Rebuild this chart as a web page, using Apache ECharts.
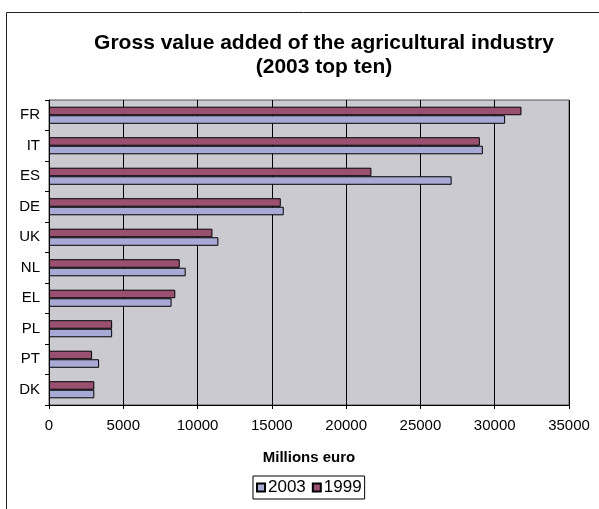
<!DOCTYPE html>
<html>
<head>
<meta charset="utf-8">
<script src="https://cdn.jsdelivr.net/npm/echarts@6/dist/echarts.min.js"></script>
<style>
  html, body { margin: 0; padding: 0; background: #fff; }
  #chart { width: 599px; height: 509px; }
</style>
</head>
<body>
<div id="chart"></div>
<script>
// values in millions euro
var countries = ["FR", "IT", "ES", "DE", "UK", "NL", "EL", "PL", "PT", "DK"];
var values2003 = [30700, 29200, 27100, 15800, 11400, 9200, 8250, 4250, 3370, 3050];
var values1999 = [31800, 29000, 21700, 15600, 11000, 8800, 8500, 4250, 2900, 3050];
var xTicks = [0, 5000, 10000, 15000, 20000, 25000, 30000, 35000];

var myChart = echarts.init(document.getElementById("chart"));
var font = "Liberation Sans, Arial, sans-serif";

var option = {
  animation: false,
  textStyle: { fontFamily: font },
  title: {
    text: "Gross value added of the agricultural industry\n(2003 top ten)",
    left: 319,
    textAlign: "center",
    top: 26,
    textStyle: { fontSize: 21, fontWeight: "bold", color: "#000", lineHeight: 24, fontFamily: font },
  },
  graphic: [
    {
      type: "rect",
      shape: { x: 6.5, y: 12.5, width: 620, height: 520 },
      style: { fill: "none", stroke: "#222", lineWidth: 1 },
      silent: true,
    },
  ],
  legend: {
    bottom: 10,
    left: 253,
    data: ["2003", "1999"],
    icon: "rect",
    itemWidth: 8,
    itemHeight: 8,
    itemGap: 6,
    padding: [3, 3, 3, 3],
    borderColor: "#000",
    borderWidth: 1,
    textStyle: { fontSize: 17, color: "#000", fontFamily: font, padding: [0, 0, 0, -2] },
  },
  grid: {
    left: 49,
    right: 30,
    top: 100,
    bottom: 104,
    show: true,
    backgroundColor: "#cacad0",
    borderColor: "#555",
    borderWidth: 1,
  },
  xAxis: {
    type: "value",
    min: xTicks[0],
    max: xTicks[xTicks.length - 1],
    interval: 5000,
    name: "Millions euro",
    nameLocation: "middle",
    nameGap: 45,
    nameTextStyle: { fontSize: 15, fontWeight: "bold", color: "#000", fontFamily: font },
    axisLine: { show: true, lineStyle: { color: "#000" } },
    axisTick: { show: true, length: 4, lineStyle: { color: "#000" } },
    axisLabel: { fontSize: 15, color: "#000", margin: 13, fontFamily: font, formatter: function (v) { return String(v); } },
    splitLine: { show: true, lineStyle: { color: "#000", width: 1 } },
  },
  yAxis: {
    type: "category",
    data: countries,
    inverse: true,
    axisLine: { show: true, lineStyle: { color: "#000" } },
    axisTick: { show: true, length: 4, lineStyle: { color: "#000" } },
    axisLabel: { fontSize: 15, color: "#000", margin: 9, fontFamily: font },
    splitLine: { show: false },
  },
  series: [
    {
      name: "1999",
      type: "bar",
      data: values1999,
      barGap: "0%",
      barCategoryGap: "44%",
      itemStyle: { color: "#9a5070", borderColor: "#000", borderWidth: 1 },
    },
    {
      name: "2003",
      type: "bar",
      data: values2003,
      itemStyle: { color: "#a9a9d6", borderColor: "#000", borderWidth: 1 },
    },
  ],
};

option && myChart.setOption(option);
</script>
</body>
</html>
